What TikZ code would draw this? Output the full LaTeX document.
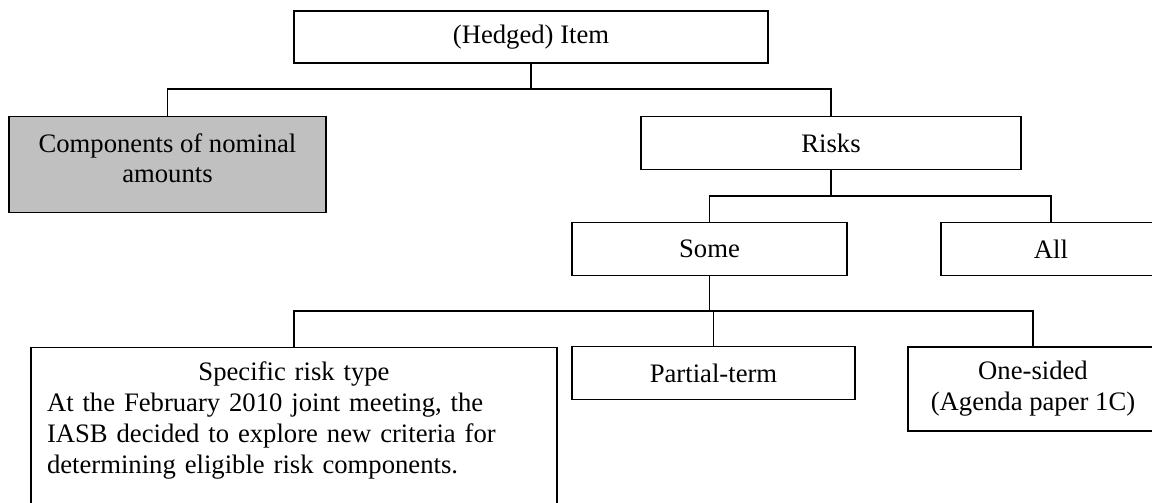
\documentclass[tikz,border=0pt]{standalone}
\usepackage{fontspec}
\setmainfont{Liberation Serif}
\usepackage{xcolor}
\definecolor{boxgray}{HTML}{C0C0C0}
\newcommand{\boxunit}{0.45pt}

\begin{document}
\begin{tikzpicture}[x=\boxunit, y=-\boxunit,
    box/.style={draw, line width=0.5pt, inner sep=0pt, align=center,
      font=\fontsize{12}{13.9}\selectfont},
    link/.style={line width=0.5pt}]
        \useasboundingbox (0,0) rectangle (1152,503);

        % Top level
        \node[box, minimum width=474*\boxunit, minimum height=52*\boxunit] (item) at (531,37) {(Hedged) Item};

        % Second level
        \node[box, fill=boxgray, minimum width=317*\boxunit, minimum height=96*\boxunit] (comp) at (167.5,164.7)
          {\raisebox{1.5pt}[\height][\depth]{\begin{tabular}{@{}c@{}}Components of nominal\\amounts\end{tabular}}};
        \node[box, minimum width=380*\boxunit, minimum height=53*\boxunit] (risks) at (831,143.2) {Risks};

        % Third level
        \node[box, minimum width=275*\boxunit, minimum height=52.6*\boxunit] (some) at (709.5,249) {Some};
        \node[box, minimum width=220*\boxunit, minimum height=53*\boxunit] (all) at (1051,249) {All};

        % Fourth level
        \node[box, minimum width=526*\boxunit, minimum height=180*\boxunit, anchor=north] (spec) at (294,346.7) {};
        \node[box, draw=none, anchor=north, text width=494*\boxunit, align=left] (spectext)
          at ([yshift=-6.5pt]spec.north)
          {{\centering Specific risk type\par}
           At the February 2010 joint meeting, the\\
           IASB decided to explore new criteria for\\
           determining eligible risk components.};
        \node[box, minimum width=283*\boxunit, minimum height=52.6*\boxunit] (partial) at (713.5,373) {Partial-term};
        \node[box, minimum width=250*\boxunit, minimum height=84*\boxunit] (onesided) at (1033,389)
          {One-sided\\(Agenda paper 1C)};

        % Connectors
        \coordinate (j1) at (item.south |- 0,89);
        \draw[link] (item.south) -- (j1);
        \draw[link] (comp.north) |- (j1) -| (risks.north);

        \coordinate (j2) at (risks.south |- 0,196);
        \draw[link] (risks.south) -- (j2);
        \draw[link] (some.north) |- (j2) -| (all.north);

        \coordinate (j3) at (some.south |- 0,311);
        \draw[link] (some.south) -- (j3);
        \draw[link] (spec.north) |- (j3) -| (onesided.north);
        \draw[link] (partial.north) -- (partial.north |- j3);
\end{tikzpicture}
\end{document}
